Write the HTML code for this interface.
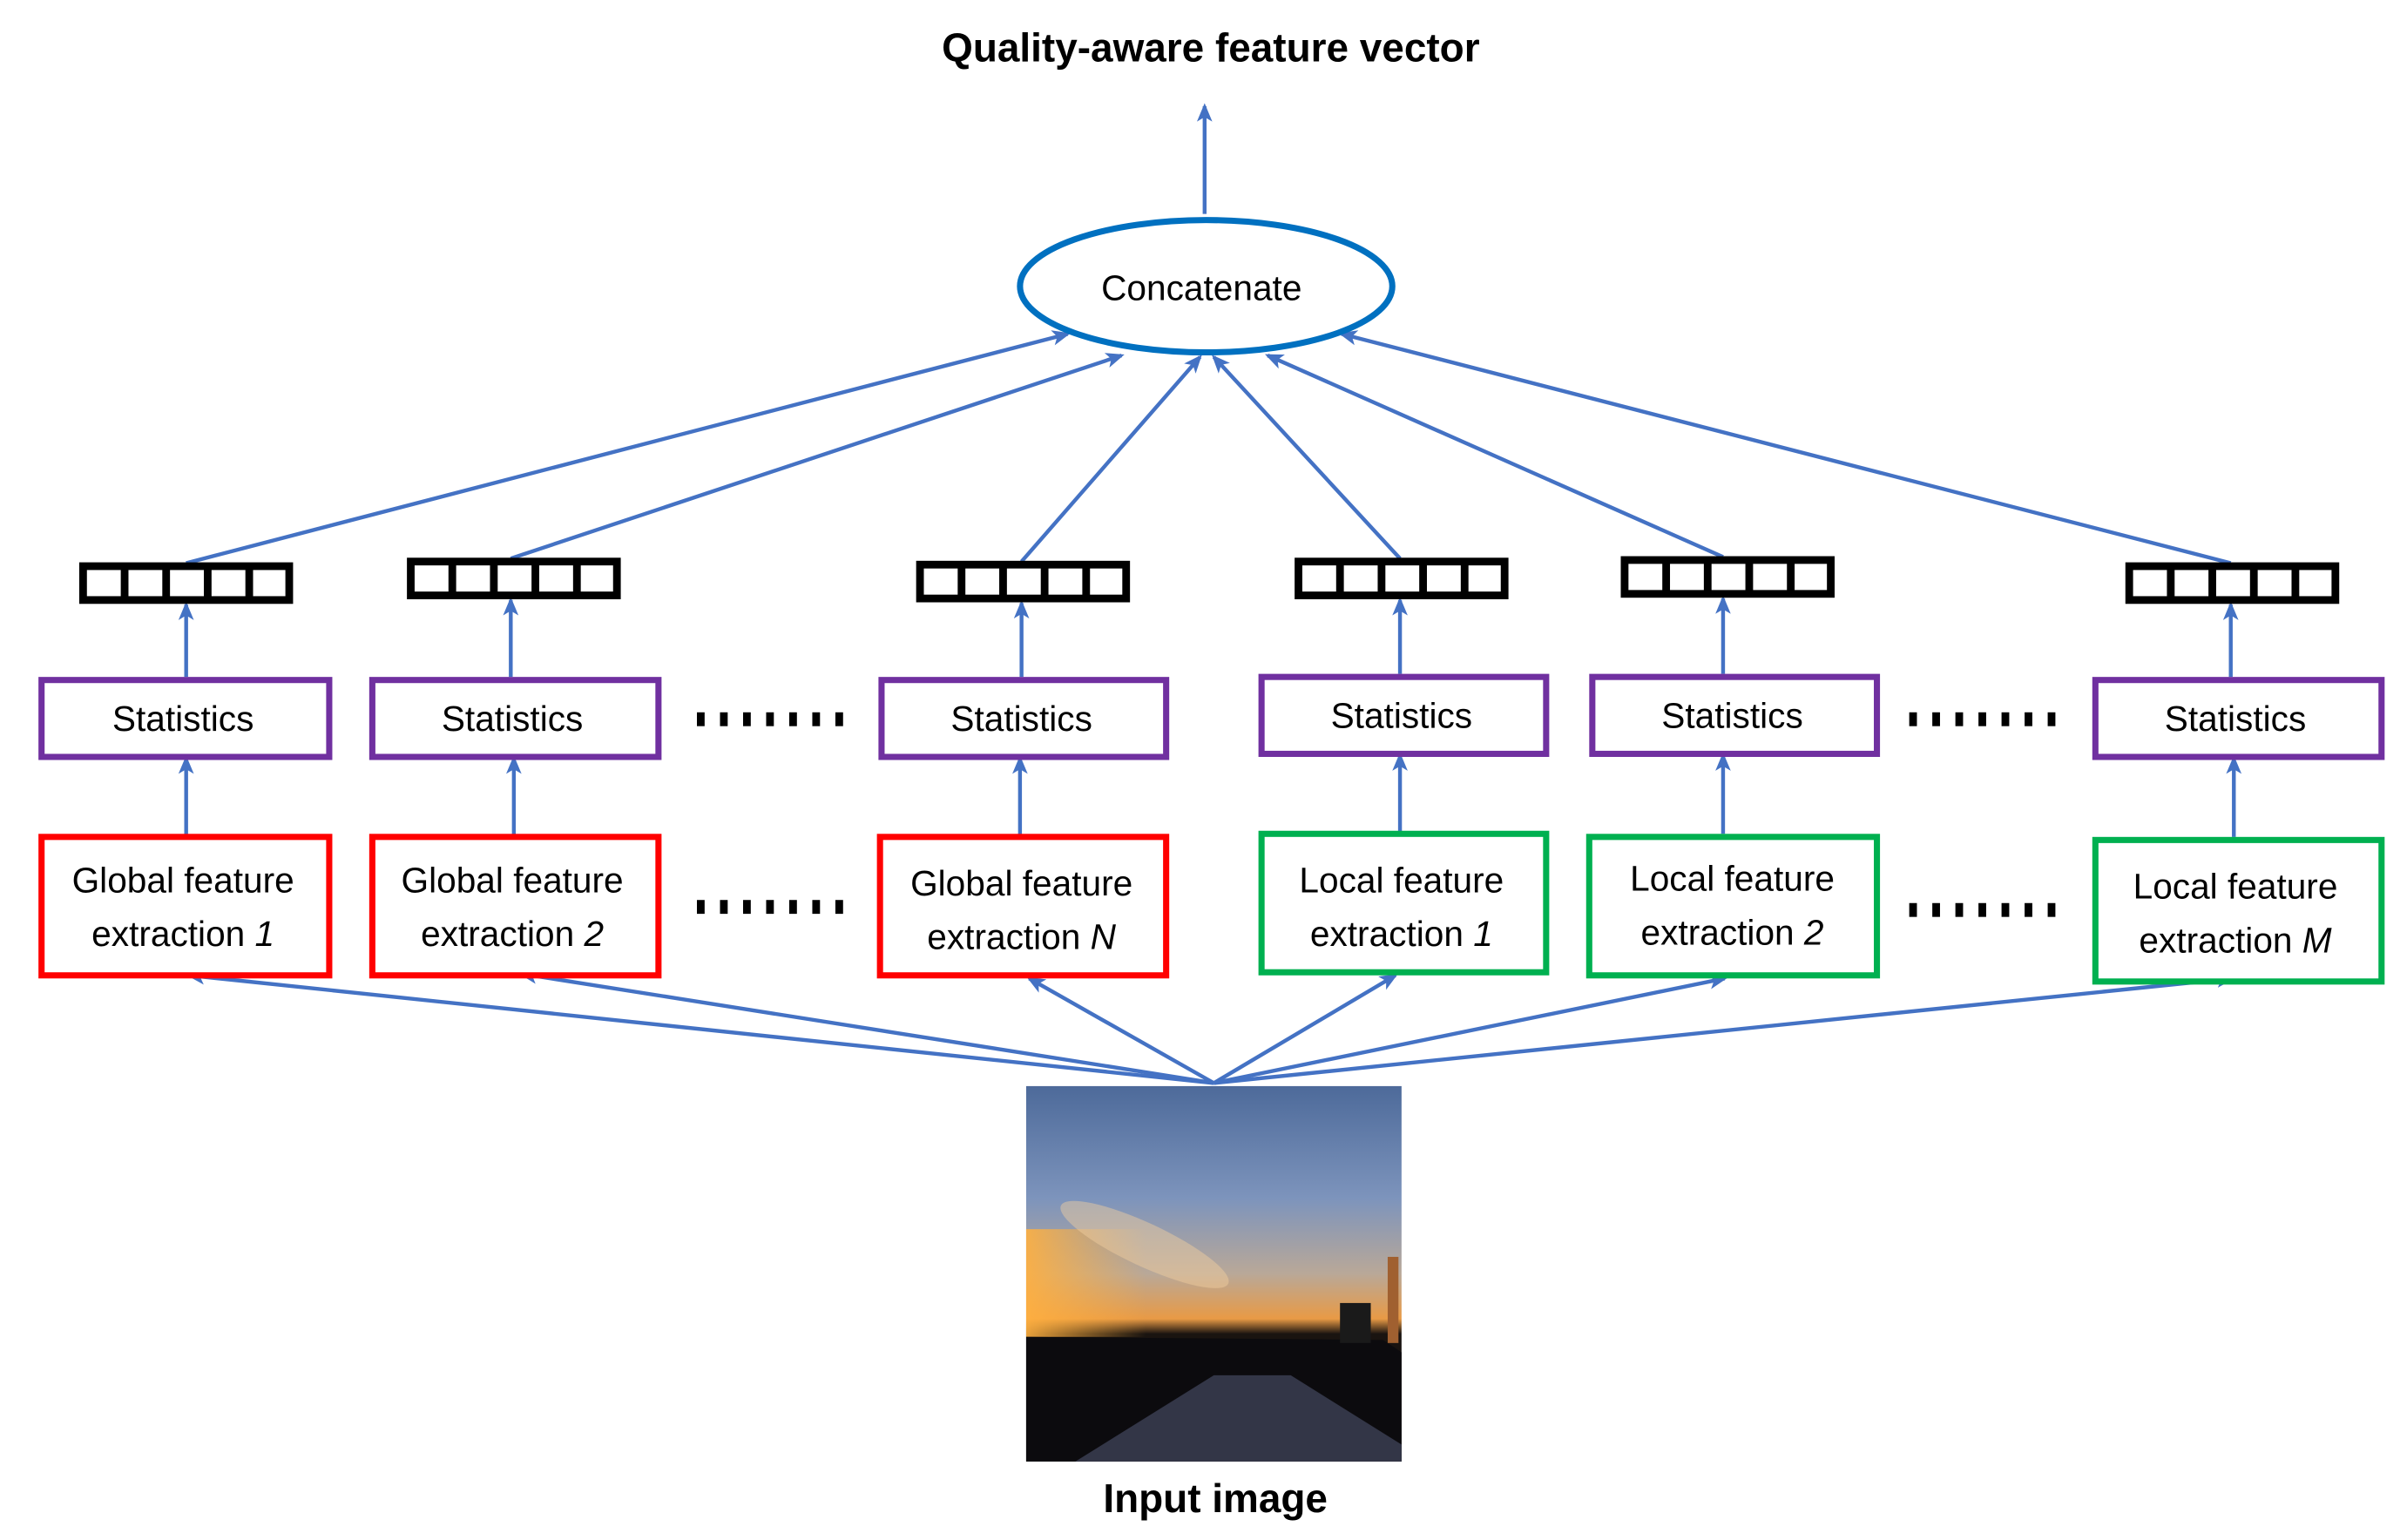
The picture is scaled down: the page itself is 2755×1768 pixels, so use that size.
<!DOCTYPE html>
<html><head><meta charset="utf-8"><style>html,body{margin:0;padding:0;background:#fff}svg{display:block}</style></head>
<body>
<svg width="2755" height="1768" viewBox="0 0 1560 1001" xmlns="http://www.w3.org/2000/svg" font-family="'Liberation Sans', sans-serif">
<defs>
<marker id="a" viewBox="0 0 12 12" refX="10" refY="6" markerWidth="12" markerHeight="12" orient="auto" markerUnits="userSpaceOnUse">
<path d="M0,1 L12,6 L0,11 L3,6 Z" fill="#4472c4"/></marker>
<linearGradient id="sky" x1="0" y1="0" x2="0" y2="1">
<stop offset="0" stop-color="#4d6a9a"/><stop offset="0.3" stop-color="#7d94bc"/><stop offset="0.5" stop-color="#b9a898"/><stop offset="0.62" stop-color="#e89a45"/><stop offset="0.66" stop-color="#1a1410"/><stop offset="1" stop-color="#0d0c10"/></linearGradient>
<linearGradient id="sun" x1="0" y1="0" x2="1" y2="0"><stop offset="0" stop-color="#ffb040" stop-opacity="0.9"/><stop offset="0.6" stop-color="#ffb040" stop-opacity="0"/></linearGradient>
<g id="d"><rect x="0" y="-4" width="5" height="9"/><rect x="15" y="-4" width="5" height="9"/><rect x="30" y="-4" width="5" height="9"/><rect x="45" y="-4" width="5" height="9"/><rect x="60" y="-4" width="5" height="9"/><rect x="75" y="-4" width="5" height="9"/><rect x="90" y="-4" width="5" height="9"/></g>
</defs>
<g transform="translate(-1,-1)">
<g stroke="#4472c4" stroke-width="2.5" fill="none" marker-end="url(#a)">
<line x1="784" y1="140" x2="784" y2="70"/>
<line x1="122" y1="367" x2="695" y2="218"/>
<line x1="333" y1="364" x2="730" y2="232"/>
<line x1="665" y1="366" x2="781" y2="233"/>
<line x1="911" y1="364" x2="790" y2="233"/>
<line x1="1121" y1="363" x2="825" y2="232"/>
<line x1="1451" y1="367" x2="873" y2="218"/>
<line x1="122" y1="441" x2="122" y2="394"/>
<line x1="333" y1="441" x2="333" y2="391"/>
<line x1="665" y1="441" x2="665" y2="393"/>
<line x1="911" y1="439" x2="911" y2="391"/>
<line x1="1121" y1="439" x2="1121" y2="390"/>
<line x1="1451" y1="441" x2="1451" y2="394"/>
<line x1="122" y1="545" x2="122" y2="494"/>
<line x1="335" y1="545" x2="335" y2="494"/>
<line x1="664" y1="545" x2="664" y2="494"/>
<line x1="911" y1="543" x2="911" y2="492"/>
<line x1="1121" y1="543" x2="1121" y2="492"/>
<line x1="1453" y1="545" x2="1453" y2="494"/>
<line x1="790" y1="705" x2="124" y2="635"/>
<line x1="790" y1="705" x2="340" y2="634"/>
<line x1="790" y1="705" x2="670" y2="637"/>
<line x1="790" y1="705" x2="908" y2="635"/>
<line x1="790" y1="705" x2="1122" y2="637"/>
<line x1="790" y1="705" x2="1452" y2="637"/>
</g>
<text x="788" y="41" text-anchor="middle" font-size="26" font-weight="bold">Quality-aware feature vector</text>
<ellipse cx="785" cy="187" rx="121" ry="43" fill="#fff" stroke="#0070c0" stroke-width="4"/>
<text x="782" y="196" text-anchor="middle" font-size="23">Concatenate</text>
<g fill="#fff" stroke="#000" stroke-width="5">
<g transform="translate(55,369)"><rect width="134" height="22"/><path d="M27,0V22M54,0V22M81,0V22M108,0V22"/></g>
<g transform="translate(268,366)"><rect width="134" height="22"/><path d="M27,0V22M54,0V22M81,0V22M108,0V22"/></g>
<g transform="translate(599,368)"><rect width="134" height="22"/><path d="M27,0V22M54,0V22M81,0V22M108,0V22"/></g>
<g transform="translate(845,366)"><rect width="134" height="22"/><path d="M27,0V22M54,0V22M81,0V22M108,0V22"/></g>
<g transform="translate(1057,365)"><rect width="134" height="22"/><path d="M27,0V22M54,0V22M81,0V22M108,0V22"/></g>
<g transform="translate(1385,369)"><rect width="134" height="22"/><path d="M27,0V22M54,0V22M81,0V22M108,0V22"/></g>
</g>
<g fill="#fff" stroke="#7030a0" stroke-width="4">
<rect x="28" y="443" width="187" height="50"/><rect x="243" y="443" width="186" height="50"/><rect x="574" y="443" width="185" height="50"/>
<rect x="821" y="441" width="185" height="50"/><rect x="1036" y="441" width="185" height="50"/><rect x="1363" y="443" width="186" height="50"/>
</g>
<g font-size="23" text-anchor="middle">
<text x="120" y="476">Statistics</text><text x="334" y="476">Statistics</text><text x="665" y="476">Statistics</text>
<text x="912" y="474">Statistics</text><text x="1127" y="474">Statistics</text><text x="1454" y="476">Statistics</text>
</g>
<g fill="#fff" stroke-width="4">
<rect x="28" y="545" width="187" height="90" stroke="#ff0000"/><rect x="243" y="545" width="186" height="90" stroke="#ff0000"/><rect x="573" y="545" width="186" height="90" stroke="#ff0000"/>
<rect x="821" y="543" width="185" height="90" stroke="#00b050"/><rect x="1034" y="545" width="187" height="90" stroke="#00b050"/><rect x="1363" y="547" width="186" height="92" stroke="#00b050"/>
</g>
<g font-size="23" text-anchor="middle">
<text x="120" y="581">Global feature</text><text x="120" y="616">extraction <tspan font-style="italic">1</tspan></text>
<text x="334" y="581">Global feature</text><text x="334" y="616">extraction <tspan font-style="italic">2</tspan></text>
<text x="665" y="583">Global feature</text><text x="665" y="618">extraction <tspan font-style="italic">N</tspan></text>
<text x="912" y="581">Local feature</text><text x="912" y="616">extraction <tspan font-style="italic">1</tspan></text>
<text x="1127" y="580">Local feature</text><text x="1127" y="615">extraction <tspan font-style="italic">2</tspan></text>
<text x="1454" y="585">Local feature</text><text x="1454" y="620">extraction <tspan font-style="italic">M</tspan></text>
</g>
<g fill="#000">
<use href="#d" x="454" y="468"/><use href="#d" x="454" y="590"/><use href="#d" x="1242" y="468"/><use href="#d" x="1242" y="592"/>
</g>
<rect x="668" y="707" width="244" height="244" fill="url(#sky)"/>
<rect x="668" y="800" width="130" height="70" fill="url(#sun)"/>
<ellipse cx="745" cy="810" rx="60" ry="14" fill="#f3d0a0" opacity="0.45" transform="rotate(25 745 810)"/>
<path d="M668,870 L900,872 L912,880 L912,951 L668,951 Z" fill="#0c0b0e"/>
<path d="M700,951 L790,895 L840,895 L912,940 L912,951 Z" fill="#3d4156" opacity="0.8"/>
<rect x="903" y="818" width="7" height="56" fill="#a06030"/>
<rect x="872" y="848" width="20" height="26" fill="#1a1a1a"/>
<text x="791" y="984" text-anchor="middle" font-size="26" font-weight="bold">Input image</text>
</g>
</svg>
</body></html>
